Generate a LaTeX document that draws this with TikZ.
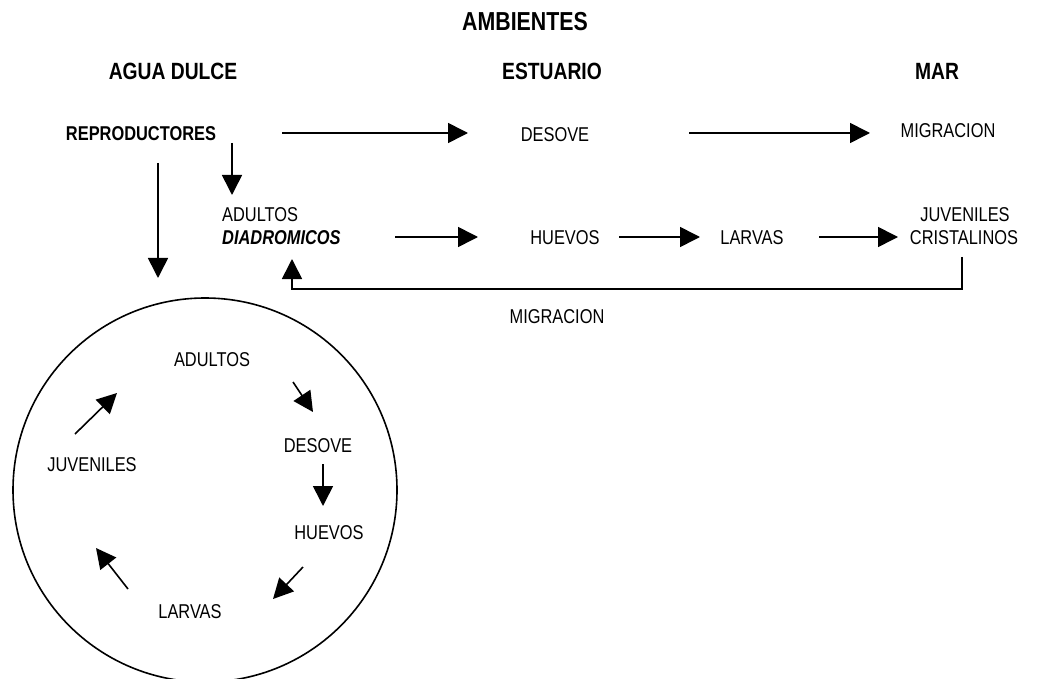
\documentclass[tikz,border=0pt]{standalone}
\usepackage{fontspec}
\setmainfont[FakeStretch=0.82]{Liberation Sans}
\usetikzlibrary{arrows.meta}
\begin{document}
\begin{tikzpicture}[x=1pt,y=-1pt,
  lbl/.style={inner sep=0pt,anchor=base,font=\fontsize{20}{24}\selectfont},
  lblw/.style={lbl,anchor=base west},
  head/.style={inner sep=0pt,anchor=base,font=\fontsize{23.5}{28}\selectfont\bfseries},
  arr/.style={line width=1.6pt,-{Triangle[length=20pt,width=20pt]}},
  ring/.style={line width=1.6pt}]
\useasboundingbox (0,0) rectangle (1039,679);
% titles
\node[inner sep=0pt,anchor=base,font=\fontsize{26}{30}\selectfont\bfseries] (amb) at (525,31) {AMBIENTES};
\node[head] (agua) at (173,80) {AGUA DULCE};
\node[head] (est) at (552,80) {ESTUARIO};
\node[head] (mar) at (937,80) {MAR};
% top row
\node[lbl,font=\fontsize{20}{24}\selectfont\bfseries] (repro) at (141,141) {REPRODUCTORES};
\node[lbl] (desove) at (555,142) {DESOVE};
\node[lbl] (migr) at (948,138) {MIGRACION};
% second row
\node[lblw] (adultos) at (222,222) {ADULTOS};
\node[lblw,font=\fontsize{20}{24}\selectfont\bfseries\itshape] (diadro) at (222,244) {DIADROMICOS};
\node[lbl] (huevos) at (565,244) {HUEVOS};
\node[lbl] (larvas) at (752,244) {LARVAS};
\node[lbl] (juv) at (965,222) {JUVENILES};
\node[lbl] (crist) at (964,244) {CRISTALINOS};
\node[lbl] (migr2) at (557,323) {MIGRACION};
% connector end points
\coordinate (a1s) at (282,133); \coordinate (a1e) at (468,133);
\coordinate (a2s) at (689,133); \coordinate (a2e) at (870,133);
\coordinate (a3s) at (232,143); \coordinate (a3e) at (232,195);
\coordinate (a4s) at (158,163); \coordinate (a4e) at (158,278);
\coordinate (a5s) at (395,237); \coordinate (a5e) at (478,237);
\coordinate (a6s) at (619,237); \coordinate (a6e) at (700,237);
\coordinate (a7s) at (819,237); \coordinate (a7e) at (898,237);
\coordinate (fbs) at (962,257); \coordinate (fbc1) at (962,289);
\coordinate (fbc2) at (292,289); \coordinate (fbe) at (292,259);
\draw[arr] (a1s) -- (a1e);
\draw[arr] (a2s) -- (a2e);
\draw[arr] (a3s) -- (a3e);
\draw[arr] (a4s) -- (a4e);
\draw[arr] (a5s) -- (a5e);
\draw[arr] (a6s) -- (a6e);
\draw[arr] (a7s) -- (a7e);
\draw[arr] (fbs) -- (fbc1) -- (fbc2) -- (fbe);
% fresh-water cycle
\draw[ring] (205,490) circle[radius=192pt];
\node[lbl] (cad) at (212,366) {ADULTOS};
\node[lbl] (cde) at (318,452) {DESOVE};
\node[lbl] (chu) at (329,539) {HUEVOS};
\node[lbl] (cla) at (190,618) {LARVAS};
\node[lbl] (cju) at (92,471) {JUVENILES};
\coordinate (c1s) at (293,382); \coordinate (c1e) at (313,412);
\coordinate (c2s) at (323,464); \coordinate (c2e) at (323,506);
\coordinate (c3s) at (303,567); \coordinate (c3e) at (273,599);
\coordinate (c4s) at (128,589); \coordinate (c4e) at (96,548);
\coordinate (c5s) at (75,434);  \coordinate (c5e) at (117,393);
\draw[arr] (c1s) -- (c1e);
\draw[arr] (c2s) -- (c2e);
\draw[arr] (c3s) -- (c3e);
\draw[arr] (c4s) -- (c4e);
\draw[arr] (c5s) -- (c5e);
\end{tikzpicture}
\end{document}
